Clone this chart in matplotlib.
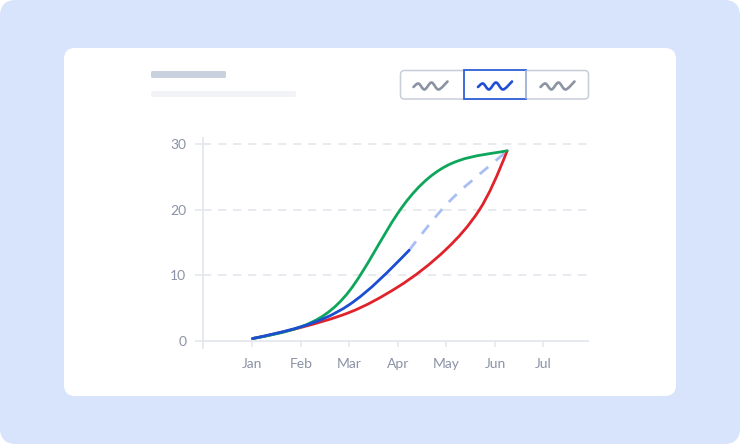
import numpy as np
import matplotlib
matplotlib.use("Agg")
import matplotlib.pyplot as plt
from matplotlib.path import Path
from matplotlib.patches import PathPatch, FancyBboxPatch

plt.rcParams['font.family'] = ['Lato', 'DejaVu Sans']

# ---------------- data ----------------
months = ['Jan', 'Feb', 'Mar', 'Apr', 'May', 'Jun', 'Jul']
y_ticks = [0, 10, 20, 30]

green_x = [0, 1, 2, 3, 4, 5, 5.25]
green_y = [0.3, 2.1, 7.6, 19.5, 26.7, 28.7, 29.0]

red_x = [0, 1, 2, 3, 4, 4.68, 5.25]
red_y = [0.3, 2.0, 4.3, 8.2, 14.0, 20.0, 29.0]

blue_x = [0, 1, 2, 3.23]
blue_y = [0.3, 2.1, 5.5, 13.8]

proj_x = [3.23, 4, 5, 5.25]
proj_y = [13.8, 20.8, 27.4, 29.0]

W, H = 740, 444
fig = plt.figure(figsize=(W / 100, H / 100), dpi=100)
fig.patch.set_facecolor('white')

# ---------------- decoration layer (pixel coordinates) ----------------
deco = fig.add_axes([0, 0, 1, 1], zorder=0)
deco.set_xlim(0, W)
deco.set_ylim(H, 0)
deco.axis('off')

deco.add_patch(FancyBboxPatch((0, 0), W, H, boxstyle="round,pad=0,rounding_size=16",
                              fc='#d8e3fc', ec='none'))
deco.add_patch(FancyBboxPatch((64, 48), 612, 348, boxstyle="round,pad=0,rounding_size=11",
                              fc='white', ec='none'))
# title placeholders
deco.add_patch(FancyBboxPatch((151, 71), 75, 7, boxstyle="round,pad=0,rounding_size=1.5",
                              fc='#c9d0de', ec='none'))
deco.add_patch(FancyBboxPatch((151, 91), 145, 6, boxstyle="round,pad=0,rounding_size=1.5",
                              fc='#f1f3f7', ec='none'))
# segmented control
deco.add_patch(FancyBboxPatch((400.5, 70.5), 188, 28.5, boxstyle="round,pad=0,rounding_size=4",
                              fc='white', ec='#c8ced9', lw=1.1))
deco.plot([526, 526], [71, 98.5], color='#c8ced9', lw=1.1)
deco.add_patch(plt.Rectangle((463.5, 70.5), 62.5, 28.5, fc='white', ec='#2f5fd9', lw=1.3))


def squiggle(cx, cy, color):
    pts = np.array([[-17, 1], [-12, -2.5], [-6, 3.5], [1, -3.5], [8, 3.5], [17, -4.5]], float)
    px = pts[:, 0] + cx
    py = pts[:, 1] + cy
    verts = [(px[0], py[0])]
    codes = [Path.MOVETO]
    n = len(px)
    for i in range(n - 1):
        p0 = np.array([px[max(i - 1, 0)], py[max(i - 1, 0)]])
        p1 = np.array([px[i], py[i]])
        p2 = np.array([px[i + 1], py[i + 1]])
        p3 = np.array([px[min(i + 2, n - 1)], py[min(i + 2, n - 1)]])
        c1 = p1 + (p2 - p0) / 6
        c2 = p2 - (p3 - p1) / 6
        verts += [tuple(c1), tuple(c2), tuple(p2)]
        codes += [Path.CURVE4] * 3
    deco.add_patch(PathPatch(Path(verts, codes), fill=False, ec=color, lw=1.9,
                             capstyle='round', joinstyle='round'))


squiggle(430.5, 86, '#8c93a3')
squiggle(495, 86, '#1f4fd6')
squiggle(557.5, 86, '#8c93a3')

# ---------------- chart ----------------
ax_l, ax_r = 203 / W, 588 / W
ax_b, ax_t = (H - 348) / H, (H - 138) / H
ax = fig.add_axes([ax_l, ax_b, ax_r - ax_l, ax_t - ax_b], zorder=1)
ax.patch.set_alpha(0)

x0 = (203 - 252.5) / 48.5
x1 = (588 - 252.5) / 48.5
ax.set_xlim(x0, x1)
ppu = (340.5 - 144.3) / 30
ax.set_ylim(-(348 - 340.5) / ppu, (340.5 - 138) / ppu)

axis_col = '#e2e5ec'
for s in ['top', 'right']:
    ax.spines[s].set_visible(False)
ax.spines['left'].set_color(axis_col)
ax.spines['bottom'].set_color(axis_col)
ax.spines['left'].set_linewidth(1.2)
ax.spines['bottom'].set_linewidth(1.2)
ax.spines['bottom'].set_position(('data', 0))

ax.set_xticks(range(len(months)))
ax.set_xticklabels(months)
ax.set_yticks(y_ticks)
ax.set_yticklabels([str(v) for v in y_ticks])
ax.tick_params(axis='x', length=4.5, width=1.1, color=axis_col, pad=8,
               labelsize=10, labelcolor='#8a92a5')
ax.tick_params(axis='y', length=6, width=1.1, color=axis_col, pad=6,
               labelsize=10, labelcolor='#8a92a5')

for v in y_ticks[1:]:
    ax.axhline(v, color='#e3e6ec', lw=1.2, dashes=(5, 4), zorder=1)


def spline_slopes(xs, ys):
    """Knot slopes of the natural cubic spline through the points."""
    n = len(xs)
    h = np.diff(xs)
    A = np.zeros((n, n))
    b = np.zeros(n)
    A[0, 0] = A[-1, -1] = 1
    for i in range(1, n - 1):
        A[i, i - 1] = h[i - 1]
        A[i, i] = 2 * (h[i - 1] + h[i])
        A[i, i + 1] = h[i]
        b[i] = 6 * ((ys[i + 1] - ys[i]) / h[i] - (ys[i] - ys[i - 1]) / h[i - 1])
    M = np.linalg.solve(A, b)
    m = np.zeros(n)
    for i in range(n - 1):
        m[i] = (ys[i + 1] - ys[i]) / h[i] - h[i] * (2 * M[i] + M[i + 1]) / 6
    m[-1] = (ys[-1] - ys[-2]) / h[-1] + h[-1] * (M[-2] + 2 * M[-1]) / 6
    return m


def pchip_slopes(xs, ys):
    """Knot slopes of the shape-preserving (PCHIP) cubic through the points."""
    h = np.diff(xs)
    d = np.diff(ys) / h
    n = len(xs)
    m = np.zeros(n)
    for k in range(1, n - 1):
        if d[k - 1] * d[k] <= 0:
            m[k] = 0
        else:
            w1 = 2 * h[k] + h[k - 1]
            w2 = h[k] + 2 * h[k - 1]
            m[k] = (w1 + w2) / (w1 / d[k - 1] + w2 / d[k])

    def end(h0, h1, d0, d1):
        s = ((2 * h0 + h1) * d0 - h0 * d1) / (h0 + h1)
        if np.sign(s) != np.sign(d0):
            s = 0
        elif np.sign(d0) != np.sign(d1) and abs(s) > abs(3 * d0):
            s = 3 * d0
        return s

    m[0] = end(h[0], h[1], d[0], d[1])
    m[-1] = end(h[-1], h[-2], d[-1], d[-2])
    return m


def smooth(xs, ys, method='spline', **kw):
    xs = np.asarray(xs, float)
    ys = np.asarray(ys, float)
    m = spline_slopes(xs, ys) if method == 'spline' else pchip_slopes(xs, ys)
    verts = [(xs[0], ys[0])]
    codes = [Path.MOVETO]
    for i in range(len(xs) - 1):
        dx = xs[i + 1] - xs[i]
        verts += [(xs[i] + dx / 3, ys[i] + m[i] * dx / 3),
                  (xs[i + 1] - dx / 3, ys[i + 1] - m[i + 1] * dx / 3),
                  (xs[i + 1], ys[i + 1])]
        codes += [Path.CURVE4] * 3
    ax.add_patch(PathPatch(Path(verts, codes), fill=False, **kw))


smooth(proj_x, proj_y, ec='#a9bff3', lw=2.0, linestyle=(0, (4, 3.5)), zorder=3)
smooth(red_x, red_y, method='pchip', ec='#e0232b', lw=2.0, zorder=4, capstyle='round')
smooth(green_x, green_y, ec='#0ea65b', lw=2.0, zorder=5, capstyle='round')
smooth(blue_x, blue_y, ec='#1a4fd2', lw=2.0, zorder=6, capstyle='round')

fig.savefig('out.png', dpi=100, facecolor='white')
